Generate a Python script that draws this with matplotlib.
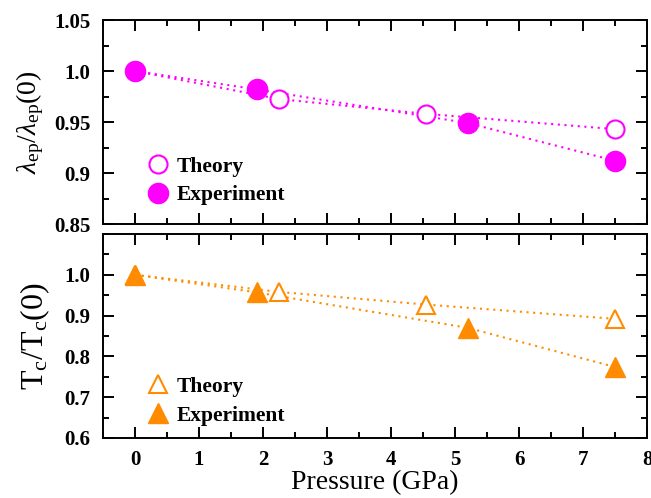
import numpy as np
import matplotlib.pyplot as plt
from matplotlib.ticker import MultipleLocator

plt.rcParams['font.family'] = ['Liberation Serif', 'DejaVu Serif']
plt.rcParams['mathtext.fontset'] = 'custom'
plt.rcParams['mathtext.rm'] = 'Liberation Serif'
plt.rcParams['mathtext.it'] = 'Liberation Serif:italic'
plt.rcParams['mathtext.cal'] = 'Liberation Serif'

# lambda_ep / lambda_ep(0)
p_lam_th = [0.0, 2.25, 4.55, 7.5]
lam_th = [1.0, 0.9725, 0.958, 0.943]
p_lam_ex = [0.0, 1.9, 5.2, 7.5]
lam_ex = [1.0, 0.982, 0.949, 0.912]

# Tc / Tc(0)
p_tc_th = [0.0, 2.25, 4.55, 7.5]
tc_th = [1.0, 0.958, 0.927, 0.892]
p_tc_ex = [0.0, 1.9, 5.2, 7.5]
tc_ex = [1.0, 0.957, 0.87, 0.774]

magenta = '#ff00ff'
orange = '#ff8c00'
dots = (0, (1, 2.2))

fig = plt.figure(figsize=(6.51, 4.98), dpi=100)
ax1 = fig.add_axes([0.1582, 0.5502, 0.8357, 0.4096])
ax2 = fig.add_axes([0.1582, 0.1205, 0.8357, 0.4096])


def style(ax):
    ax.set_xlim(-0.5, 8)
    ax.xaxis.set_major_locator(MultipleLocator(1))
    ax.xaxis.set_minor_locator(MultipleLocator(0.5))
    ax.tick_params(which='both', direction='in', top=True, right=True,
                   width=1.4, labelsize=15)
    ax.tick_params(which='major', length=8, pad=9)
    ax.tick_params(which='minor', length=4.5)
    for s in ax.spines.values():
        s.set_linewidth(1.4)
    for lab in ax.get_xticklabels() + ax.get_yticklabels():
        lab.set_fontweight('bold')


leg_kw = dict(loc='upper left', frameon=False, handlelength=0.8,
              handletextpad=0.45, labelspacing=0.4,
              prop={'weight': 'bold', 'size': 15.5})

# top panel
ax1.plot(p_lam_th, lam_th, linestyle=dots, color=magenta, lw=1.5)
ax1.plot(p_lam_ex, lam_ex, linestyle=dots, color=magenta, lw=1.5)
ax1.plot(p_lam_th, lam_th, 'o', ls='none', mfc='white', mec=magenta, mew=1.5,
         ms=13, label='Theory')
ax1.plot(p_lam_ex, lam_ex, 'o', ls='none', color=magenta, ms=14.5,
         label='Experiment')
ax1.set_ylim(0.85, 1.05)
ax1.set_yticks([0.85, 0.9, 0.95, 1.0, 1.05])
ax1.set_yticklabels(['0.85', '0.9', '0.95', '1.0', '1.05'])
ax1.yaxis.set_minor_locator(MultipleLocator(0.025))
ax1.set_ylabel(r'$\lambda_{\rm ep}/\lambda_{\rm ep}(0)$', fontsize=20, labelpad=6)
style(ax1)
ax1.tick_params(labelbottom=False)
ax1.legend(bbox_to_anchor=(0.05, 0.425), **leg_kw)

# bottom panel
ax2.plot(p_tc_th, tc_th, linestyle=dots, color=orange, lw=1.5)
ax2.plot(p_tc_ex, tc_ex, linestyle=dots, color=orange, lw=1.5)
ax2.plot(p_tc_th, tc_th, '^', ls='none', mfc='white', mec=orange, mew=1.5,
         ms=13, label='Theory')
ax2.plot(p_tc_ex, tc_ex, '^', ls='none', color=orange, ms=14.5,
         label='Experiment')
ax2.set_ylim(0.6, 1.1)
ax2.set_yticks([0.6, 0.7, 0.8, 0.9, 1.0])
ax2.set_yticklabels(['0.6', '0.7', '0.8', '0.9', '1.0'])
ax2.yaxis.set_minor_locator(MultipleLocator(0.05))
ax2.set_ylabel(r'$\mathrm{T_c/T_c(0)}$', fontsize=23, labelpad=9)
ax2.set_xlabel('Pressure (GPa)', fontsize=20, labelpad=0)
style(ax2)
ax2.legend(bbox_to_anchor=(0.05, 0.395), **leg_kw)

fig.savefig('out.png', dpi=100)
